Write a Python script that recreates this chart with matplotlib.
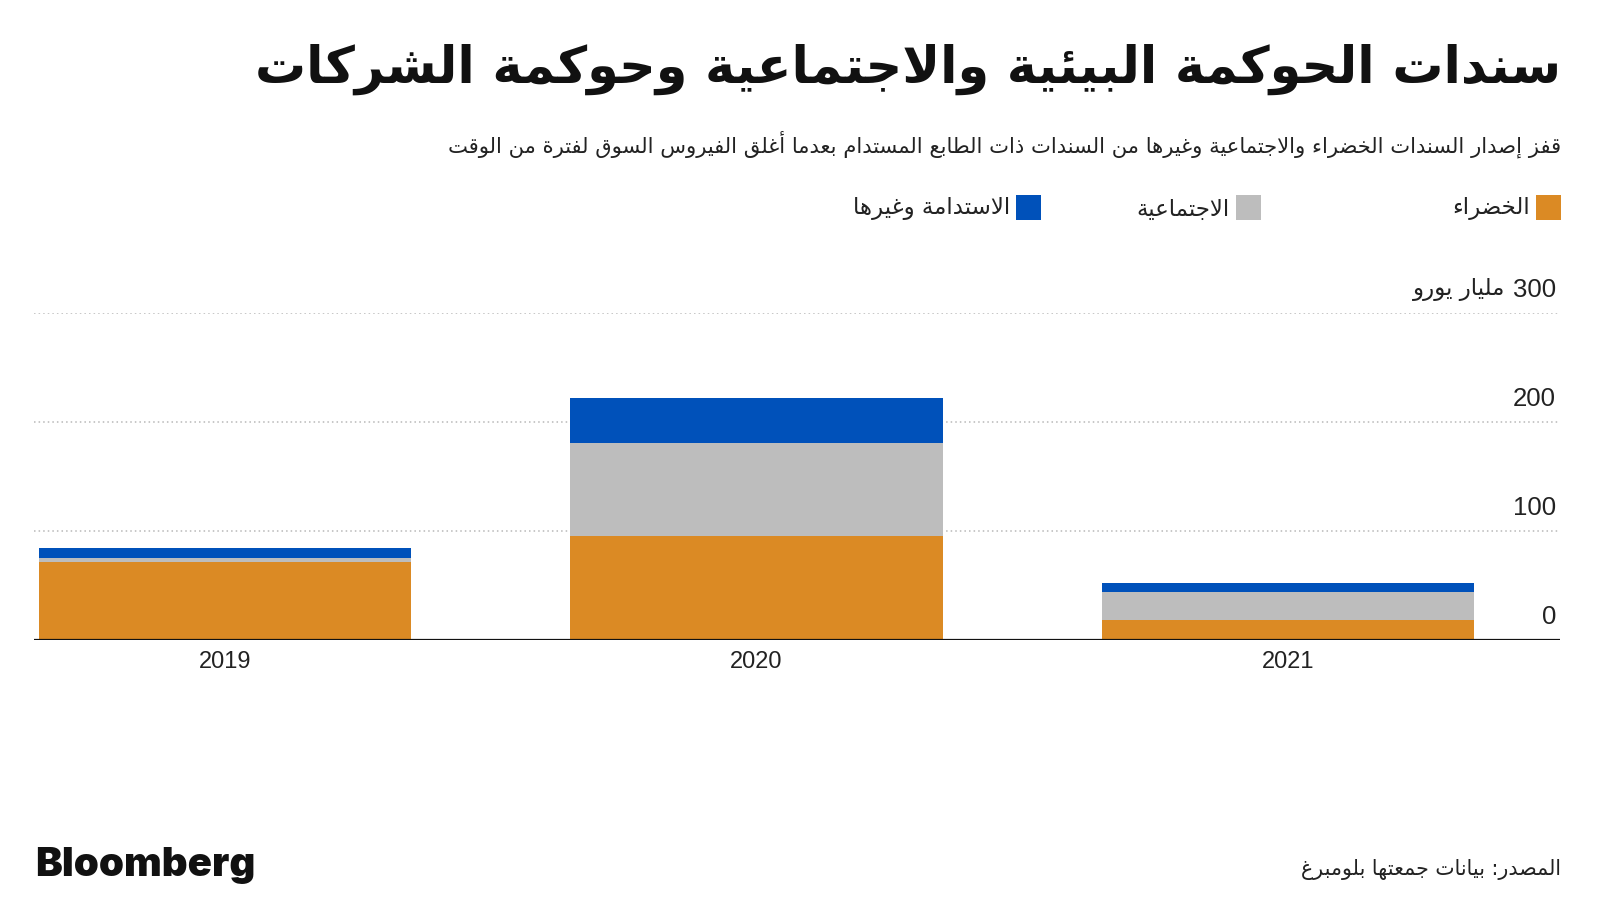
import matplotlib
matplotlib.use('Agg')
import matplotlib.pyplot as plt
from matplotlib.patches import Rectangle
import matplotlib.transforms as mtransforms

# ---------------- data ----------------
years = ['2019', '2020', '2021']
green = [71.5, 95, 18]
social = [3.7, 86, 26]
sustain = [8.8, 41, 8]
series_labels = ['الخضراء', 'الاجتماعية', 'الاستدامة وغيرها']
series_colors = ['#DB8A24', '#BDBDBD', '#0051BA']
y_ticks = [0, 100, 200, 300]
y_unit = 'مليار يورو'
title = 'سندات الحوكمة البيئية والاجتماعية وحوكمة الشركات'
subtitle = ('قفز إصدار السندات الخضراء والاجتماعية وغيرها من السندات ذات الطابع '
            'المستدام بعدما أغلق الفيروس السوق لفترة من الوقت')
source = 'المصدر: بيانات جمعتها بلومبرغ'
brand = 'Bloomberg'

# ---------------- minimal Arabic shaping ----------------
_T = {
    '\u0621': (0xFE80, 1), '\u0622': (0xFE81, 2), '\u0623': (0xFE83, 2),
    '\u0624': (0xFE85, 2), '\u0625': (0xFE87, 2), '\u0626': (0xFE89, 4),
    '\u0627': (0xFE8D, 2), '\u0628': (0xFE8F, 4), '\u0629': (0xFE93, 2),
    '\u062A': (0xFE95, 4), '\u062B': (0xFE99, 4), '\u062C': (0xFE9D, 4),
    '\u062D': (0xFEA1, 4), '\u062E': (0xFEA5, 4), '\u062F': (0xFEA9, 2),
    '\u0630': (0xFEAB, 2), '\u0631': (0xFEAD, 2), '\u0632': (0xFEAF, 2),
    '\u0633': (0xFEB1, 4), '\u0634': (0xFEB5, 4), '\u0635': (0xFEB9, 4),
    '\u0636': (0xFEBD, 4), '\u0637': (0xFEC1, 4), '\u0638': (0xFEC5, 4),
    '\u0639': (0xFEC9, 4), '\u063A': (0xFECD, 4), '\u0641': (0xFED1, 4),
    '\u0642': (0xFED5, 4), '\u0643': (0xFED9, 4), '\u0644': (0xFEDD, 4),
    '\u0645': (0xFEE1, 4), '\u0646': (0xFEE5, 4), '\u0647': (0xFEE9, 4),
    '\u0648': (0xFEED, 2), '\u0649': (0xFEEF, 2), '\u064A': (0xFEF1, 4),
}
_LA = {'\u0622': 0xFEF5, '\u0623': 0xFEF7, '\u0625': 0xFEF9, '\u0627': 0xFEFB}


def _shape(text):
    toks, i = [], 0
    while i < len(text):
        c = text[i]
        if c == '\u0644' and i + 1 < len(text) and text[i + 1] in _LA:
            toks.append(('LA', _LA[text[i + 1]]))
            i += 2
        else:
            toks.append(c)
            i += 1

    def j_next(t):
        return (not isinstance(t, tuple)) and t in _T and _T[t][1] == 4

    def j_prev(t):
        return isinstance(t, tuple) or (t in _T and _T[t][1] >= 2)

    out = []
    for k, t in enumerate(toks):
        p = toks[k - 1] if k > 0 else None
        n = toks[k + 1] if k + 1 < len(toks) else None
        cp = p is not None and j_next(p) and j_prev(t)
        cn = n is not None and j_next(t) and j_prev(n)
        if isinstance(t, tuple):
            out.append(chr(t[1] + (1 if cp else 0)))
        elif t in _T:
            base, nf = _T[t]
            if nf == 4:
                idx = 3 if (cp and cn) else 1 if cp else 2 if cn else 0
            elif nf == 2:
                idx = 1 if cp else 0
            else:
                idx = 0
            out.append(chr(base + idx))
        else:
            out.append(t)
    return ''.join(out)


def ar(text):
    s = _shape(text)
    runs = []
    for ch in s:
        ltr = ch.isascii() and ch.isalnum()
        if runs and runs[-1][0] == ltr:
            runs[-1][1].append(ch)
        else:
            runs.append([ltr, [ch]])
    vis = []
    for ltr, chars in reversed(runs):
        vis.append(''.join(chars) if ltr else ''.join(reversed(chars)))
    return ''.join(vis)


# ---------------- figure ----------------
W, H = 1600, 900
fig = plt.figure(figsize=(16, 9), dpi=100)
fig.patch.set_facecolor('white')

LAT = ['Liberation Sans', 'DejaVu Sans']
ARF = ['DejaVu Sans']


def px(x, y):
    return x / W, 1 - y / H


def fit(t, target):
    r = fig.canvas.get_renderer()
    for _ in range(2):
        w = t.get_window_extent(r).width
        t.set_fontsize(t.get_fontsize() * target / w)


# axes: x 34..1560 px, y 312.7..640 px
ax_l, ax_r, ax_t, ax_b = 34, 1560, 312.7, 640
ax = fig.add_axes([ax_l / W, 1 - ax_b / H, (ax_r - ax_l) / W, (ax_b - ax_t) / H])
ax.set_facecolor('none')
ax.set_ylim(0, 300)
ax.set_xlim(-0.3594, 2.5118)
for s in ax.spines.values():
    s.set_visible(False)

xs = list(range(len(years)))
bottom2 = [g + s for g, s in zip(green, social)]
ax.bar(xs, green, width=0.70, color=series_colors[0], zorder=3)
ax.bar(xs, social, width=0.70, bottom=green, color=series_colors[1], zorder=3)
ax.bar(xs, sustain, width=0.70, bottom=bottom2, color=series_colors[2], zorder=3)

for v in y_ticks[1:]:
    ax.axhline(v, color='#B8B8B8', lw=1.1, ls=(0, (1.0, 2.0)), zorder=1)
ax.axhline(0, color='#111111', lw=1.6, zorder=4)

ax.set_yticks([])
ax.set_xticks(xs)
ax.set_xticklabels(years, fontsize=17, family=LAT, color='#222222')
ax.tick_params(axis='x', length=0, pad=8)

tr = mtransforms.blended_transform_factory(ax.transAxes, ax.transData)
off = mtransforms.ScaledTranslation(0, 0.23, fig.dpi_scale_trans)
renderer = fig.canvas.get_renderer()
for v in y_ticks:
    tn = ax.text(0.9973, v, str(v), transform=tr + off,
                 ha='right', va='center', fontsize=18.5, family=LAT, color='#222222')
    if v == y_ticks[-1]:
        wnum = tn.get_window_extent(renderer).width
        off2 = mtransforms.ScaledTranslation(-(wnum + 7) / fig.dpi, 0.23, fig.dpi_scale_trans)
        ax.text(0.9973, v, ar(y_unit), transform=tr + off2,
                ha='right', va='center', fontsize=16.5, family=ARF, color='#222222')

# title & subtitle
tx, ty = px(1561, 69)
t1 = fig.text(tx, ty, ar(title), ha='right', va='center', fontsize=40,
              family=ARF, fontweight='bold', color='#111111')
fit(t1, 1304)
sx, sy = px(1561, 144)
t2 = fig.text(sx, sy, ar(subtitle), ha='right', va='center', fontsize=18,
              family=ARF, color='#222222')
fit(t2, 1114)

# legend (RTL)
sq_right = [1561, 1261, 1041]
for lab, col, xr in zip(series_labels, series_colors, sq_right):
    x0, y0 = px(xr - 25, 220)
    fig.add_artist(Rectangle((x0, y0), 25 / W, 25 / H, transform=fig.transFigure,
                             facecolor=col, edgecolor='none'))
    lx, ly = px(xr - 31, 209)
    fig.text(lx, ly, ar(lab), ha='right', va='center', fontsize=16.5,
             family=ARF, color='#222222')

# footer
bx, by = px(35, 866)
tb = fig.text(bx, by, brand, ha='left', va='center', fontsize=31,
              family=['Inter', 'Liberation Sans'], fontweight='black', color='#111111')
fit(tb, 220)
fx, fy = px(1561, 870)
tf = fig.text(fx, fy, ar(source), ha='right', va='center', fontsize=16,
              family=ARF, color='#222222')
fit(tf, 260)

fig.savefig('out.png', dpi=100, facecolor='white')
